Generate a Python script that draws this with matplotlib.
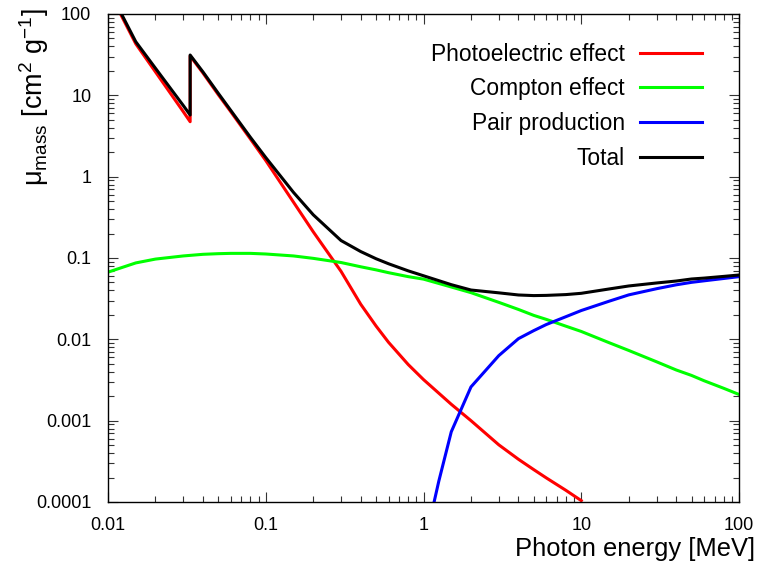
import numpy as np
import matplotlib
matplotlib.use("Agg")
import matplotlib.pyplot as plt
from matplotlib.ticker import LogLocator, FixedLocator, FuncFormatter, NullFormatter

plt.rcParams['font.family'] = ['Liberation Sans', 'DejaVu Sans']
plt.rcParams['mathtext.fontset'] = 'custom'
plt.rcParams['mathtext.rm'] = 'Liberation Sans'
plt.rcParams['mathtext.it'] = 'Liberation Sans:italic'

# Photon energies [MeV] and mass attenuation coefficients [cm^2/g]
# (the K-edge shows up as a repeated energy)
E_photo = [0.01, 0.015, 0.02, 0.03, 0.03317, 0.03317, 0.04, 0.05, 0.06, 0.08, 0.1,
           0.15, 0.2, 0.3, 0.4, 0.5, 0.6, 0.8, 1, 1.5, 2, 3, 4, 5, 6, 8, 10]
photo = [200, 43, 19.4, 6.3, 4.74, 30.5, 18.8, 10.2, 6.3, 2.9, 1.58,
         0.485, 0.21, 0.0686, 0.027, 0.0146, 0.0092, 0.0049, 0.0032, 0.00159, 0.0010,
         0.000505, 0.000335, 0.00025, 0.000198, 0.000139, 0.000104]

E_comp = [0.01, 0.015, 0.02, 0.03, 0.04, 0.05, 0.06, 0.08, 0.1, 0.15, 0.2, 0.3, 0.4,
          0.5, 0.6, 0.8, 1, 1.5, 2, 3, 4, 5, 6, 8, 10, 15, 20, 30, 40, 50, 60, 80, 100]
compton = [0.067, 0.087, 0.097, 0.106, 0.111, 0.113, 0.114, 0.114, 0.112, 0.106, 0.099,
           0.088, 0.078, 0.0715, 0.066, 0.059, 0.055, 0.044, 0.0375, 0.0285, 0.0233,
           0.0197, 0.0176, 0.0145, 0.0125, 0.0091, 0.0073, 0.0053, 0.0042, 0.0036,
           0.0031, 0.0025, 0.0021]

E_pair = [1.022, 1.25, 1.5, 2, 3, 4, 5, 6, 8, 10, 15, 20, 30, 40, 50, 60, 80, 100]
pair = [3.2e-5, 0.00018, 0.00073, 0.0026, 0.0063, 0.0102, 0.0128, 0.0152, 0.019,
        0.0226, 0.0294, 0.0352, 0.0419, 0.0468, 0.0502, 0.0524, 0.056, 0.059]

E_tot = [0.01, 0.015, 0.02, 0.03, 0.03317, 0.03317, 0.04, 0.05, 0.06, 0.08, 0.1, 0.15,
         0.2, 0.3, 0.4, 0.5, 0.6, 0.8, 1, 1.5, 2, 3, 4, 5, 6, 8, 10, 15, 20, 30, 40,
         50, 60, 80, 100]
total = [210, 45.6, 21.5, 7.5, 5.73, 31.3, 19.4, 10.6, 6.53, 3.04, 1.72, 0.64,
         0.34, 0.164, 0.12, 0.098, 0.085, 0.0695, 0.0605, 0.047, 0.0404, 0.0373,
         0.0351, 0.0345, 0.0347, 0.0355, 0.0368, 0.0416, 0.0453, 0.0493, 0.0521,
         0.0552, 0.0566, 0.0594, 0.0618]

x_ticks = [0.01, 0.1, 1, 10, 100]
y_ticks = [0.0001, 0.001, 0.01, 0.1, 1, 10, 100]

fig = plt.figure(figsize=(7.57, 5.70), dpi=100)
ax = fig.add_axes([108 / 757, 68 / 570, 631 / 757, 488 / 570])

lw = 2.2
ax.plot(E_photo, photo, color='#ff0000', lw=lw, label='Photoelectric effect')
ax.plot(E_comp, compton, color='#00ff00', lw=lw, label='Compton effect')
ax.plot(E_pair, pair, color='#0000ff', lw=lw, label='Pair production')
ax.plot(E_tot, total, color='black', lw=lw, label='Total')

ax.set_xscale('log')
ax.set_yscale('log')
ax.set_xlim(0.01, 100)
ax.set_ylim(1e-4, 100)

fmt = FuncFormatter(lambda v, p: '%g' % v)
for axis, ticks in ((ax.xaxis, x_ticks), (ax.yaxis, y_ticks)):
    axis.set_major_locator(FixedLocator(ticks))
    axis.set_minor_locator(LogLocator(base=10, subs=np.arange(2, 10), numticks=20))
    axis.set_major_formatter(fmt)
    axis.set_minor_formatter(NullFormatter())

ax.tick_params(which='both', direction='in', top=True, right=True, width=0.8, color='#333333')
ax.tick_params(which='major', length=7, labelsize=13)
ax.tick_params(which='minor', length=4)
ax.tick_params(axis='y', which='major', pad=12)
ax.tick_params(axis='x', which='major', pad=11)
for s in ax.spines.values():
    s.set_linewidth(1.0)

ax.set_xlabel('Photon energy [MeV]', fontsize=18.4, loc='right')
ax.xaxis.set_label_coords(1.026, -0.072)
ax.set_ylabel('μ$_{\\mathrm{mass}}$ [cm$^{2}$ g$^{-1}$]', fontsize=19.5, loc='top')
ax.yaxis.set_label_coords(-0.09, 1.012)

ax.legend(loc='upper right', bbox_to_anchor=(0.9414, 0.9415), frameon=False,
          markerfirst=False, fontsize=16.4, handlelength=2.72, handletextpad=0.66,
          labelspacing=0.52, borderpad=0, borderaxespad=0)

fig.savefig('out.png', dpi=100)
